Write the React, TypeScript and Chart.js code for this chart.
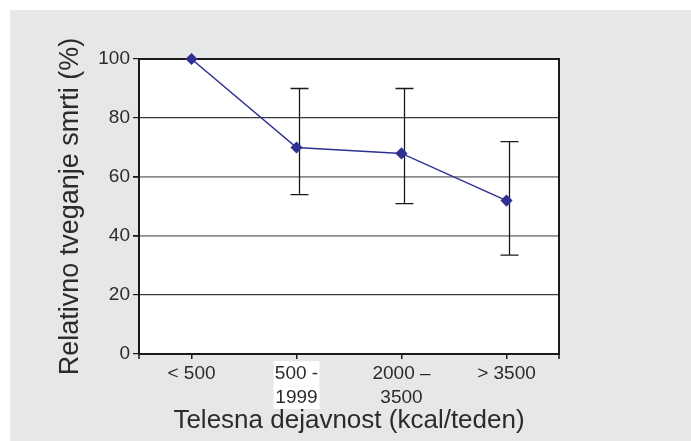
import React, { useEffect, useRef } from 'react';
import { Chart, registerables } from 'chart.js';

Chart.register(...registerables);

// ---- data ----
const categories: (string | string[])[] = ['< 500', ['500 -', '1999'], ['2000 –', '3500'], '> 3500'];
const riskValues = [100, 70, 68, 52];
const errorUpper: (number | null)[] = [null, 90, 90, 72];
const errorLower: (number | null)[] = [null, 54, 51, 33.5];
const yTicks = [0, 20, 40, 60, 80, 100];
const yTitle = 'Relativno tveganje smrti (%)';
const xTitle = 'Telesna dejavnost (kcal/teden)';

const FONT = '"Liberation Sans", Arial, Helvetica, sans-serif';
const NAVY = '#2e3192';
const TEXT = '#2b2b2b';

const backgroundPlugin = {
  id: 'bgPanel',
  beforeDraw(chart: any) {
    const { ctx, chartArea, scales } = chart;
    ctx.save();
    ctx.fillStyle = '#ffffff';
    ctx.fillRect(0, 0, chart.width, chart.height);
    ctx.fillStyle = '#e6e7e8';
    ctx.fillRect(10, 10, chart.width - 10, chart.height - 10);
    ctx.fillStyle = '#ffffff';
    ctx.fillRect(chartArea.left, chartArea.top, chartArea.right - chartArea.left, chartArea.bottom - chartArea.top);
    // white patch behind the second category label (as in the source image)
    const xs = scales.x;
    if (xs) {
      const cx = xs.getPixelForValue(1);
      ctx.fillRect(cx - 23, chartArea.bottom + 7, 46, 48);
    }
    ctx.restore();
  },
};

const boxAndErrorPlugin = {
  id: 'boxErr',
  beforeDatasetsDraw(chart: any) {
    const { ctx, chartArea, scales } = chart;
    const xs = scales.x;
    const ys = scales.y;
    ctx.save();
    // plot frame
    ctx.strokeStyle = '#1a1a1a';
    ctx.lineWidth = 2;
    ctx.strokeRect(chartArea.left, chartArea.top, chartArea.right - chartArea.left, chartArea.bottom - chartArea.top);
    // boundary tick marks on the category axis
    ctx.lineWidth = 1.5;
    ctx.beginPath();
    ctx.moveTo(chartArea.left, chartArea.bottom);
    ctx.lineTo(chartArea.left, chartArea.bottom + 5);
    ctx.moveTo(chartArea.right, chartArea.bottom);
    ctx.lineTo(chartArea.right, chartArea.bottom + 5);
    ctx.stroke();
    // error bars
    ctx.strokeStyle = '#1a1a1a';
    ctx.lineWidth = 1.3;
    for (let i = 0; i < riskValues.length; i++) {
      const up = errorUpper[i];
      const lo = errorLower[i];
      if (up == null || lo == null) continue;
      const x = xs.getPixelForValue(i) + 3;
      const yU = ys.getPixelForValue(up);
      const yL = ys.getPixelForValue(lo);
      ctx.beginPath();
      ctx.moveTo(x, yU);
      ctx.lineTo(x, yL);
      ctx.moveTo(x - 9, yU);
      ctx.lineTo(x + 9, yU);
      ctx.moveTo(x - 9, yL);
      ctx.lineTo(x + 9, yL);
      ctx.stroke();
    }
    ctx.restore();
  },
};

export default function App() {
  const canvasRef = useRef<HTMLCanvasElement | null>(null);

  useEffect(() => {
    if (!canvasRef.current) return;
    const chart = new Chart(canvasRef.current, {
      type: 'line',
      data: {
        labels: categories,
        datasets: [
          {
            data: riskValues,
            borderColor: NAVY,
            backgroundColor: NAVY,
            borderWidth: 1.5,
            pointStyle: 'rectRot',
            pointRadius: 5,
            pointBackgroundColor: NAVY,
            pointBorderColor: NAVY,
            tension: 0,
            clip: false,
          } as any,
        ],
      },
      options: {
        responsive: false,
        animation: false,
        layout: { padding: { left: 50, top: 59, right: 132, bottom: 5 } },
        plugins: {
          legend: { display: false },
          tooltip: { enabled: false },
        },
        scales: {
          x: {
            type: 'category',
            offset: true,
            border: { display: false },
            grid: {
              drawOnChartArea: false,
              drawTicks: true,
              tickLength: 5,
              tickColor: '#1a1a1a',
              lineWidth: 1.5,
              offset: false,
            },
            ticks: {
              autoSkip: false,
              maxRotation: 0,
              minRotation: 0,
              padding: 2,
              color: TEXT,
              font: { family: FONT, size: 19, lineHeight: 1.3 },
            },
            title: {
              display: true,
              text: xTitle,
              color: TEXT,
              padding: { top: 0, bottom: 0 },
              font: { family: FONT, size: 26 },
            },
            afterFit(scale: any) {
              scale.height = 82;
            },
          },
          y: {
            type: 'linear',
            min: 0,
            max: 100,
            border: { display: false },
            afterBuildTicks(scale: any) {
              scale.ticks = yTicks.map((v) => ({ value: v }));
            },
            grid: {
              drawTicks: true,
              tickLength: 6,
              tickColor: '#1a1a1a',
              color: (ctx: any) => {
                const v = ctx.tick ? ctx.tick.value : null;
                if (v === 0 || v === 100) return 'rgba(0,0,0,0)';
                if (v === 40 || v === 60) return '#8c8c8c';
                return '#3a3a3a';
              },
              lineWidth: (ctx: any) => {
                const v = ctx.tick ? ctx.tick.value : null;
                if (v === 40 || v === 60) return 1.8;
                return 1.2;
              },
            },
            ticks: {
              padding: 3,
              color: TEXT,
              font: { family: FONT, size: 19 },
            },
            title: {
              display: true,
              text: yTitle,
              color: TEXT,
              padding: { top: 4, bottom: 0 },
              font: { family: FONT, size: 27 },
            },
            afterFit(scale: any) {
              scale.width = 89;
            },
          },
        },
      },
      plugins: [backgroundPlugin, boxAndErrorPlugin],
    });
    return () => chart.destroy();
  }, []);

  return (
    <div style={{ position: 'fixed', left: 0, top: 0, width: 691, height: 441 }}>
      <canvas ref={canvasRef} width={691} height={441} style={{ display: 'block' }} />
    </div>
  );
}
